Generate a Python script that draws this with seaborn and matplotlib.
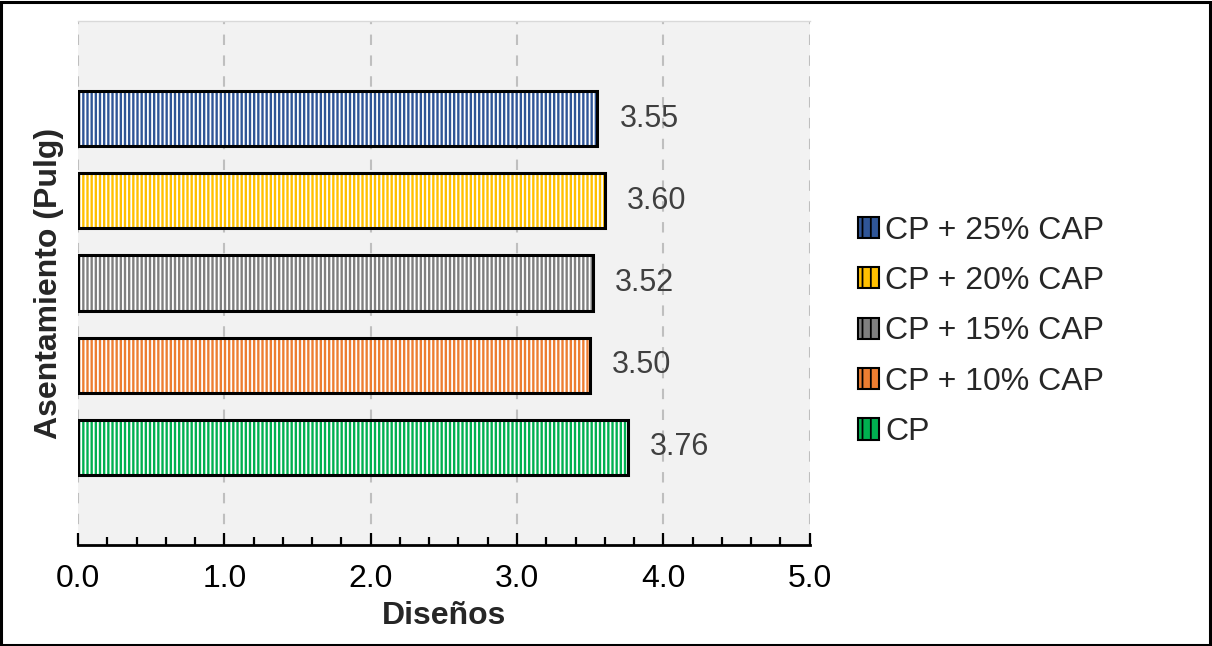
import matplotlib
matplotlib.use("Agg")
import matplotlib.pyplot as plt
from matplotlib.patches import Rectangle, Patch
from matplotlib.ticker import MultipleLocator
import seaborn as sns
import pandas as pd

# Slump results per mix design
disenos = ["CP + 25% CAP", "CP + 20% CAP", "CP + 15% CAP", "CP + 10% CAP", "CP"]
asentamiento = [3.55, 3.60, 3.52, 3.50, 3.76]
colores = ["#2F5597", "#FFC000", "#7F7F7F", "#ED7D31", "#00B050"]

sns.set_theme(style="white")
plt.rcParams["font.family"] = ["Liberation Sans", "DejaVu Sans"]
plt.rcParams["hatch.linewidth"] = 1.3

df = pd.DataFrame({"diseno": disenos, "valor": asentamiento})

fig = plt.figure(figsize=(12.12, 6.46), dpi=100)
fig.patch.set_facecolor("white")
fig.patches.append(Rectangle((0.001, 0.002), 0.997, 0.995, transform=fig.transFigure,
                             fill=False, edgecolor="black", linewidth=2.2))
ax = fig.add_axes([0.0644, 0.1563, 0.6036, 0.8112])
ax.set_facecolor("#F2F2F2")

sns.barplot(data=df, y="diseno", x="valor", hue="diseno", palette=colores,
            order=disenos, orient="h", width=0.67, legend=False,
            edgecolor="none", linewidth=0, saturation=1, ax=ax, zorder=2)

# white vertical stripes and black outline over each bar
for bar in list(ax.patches):
    x0, y0 = bar.get_x(), bar.get_y()
    w, h = bar.get_width(), bar.get_height()
    ax.add_patch(Rectangle((x0, y0), w, h, fill=False, hatch="||||",
                           edgecolor="white", linewidth=0, zorder=3))
    ax.add_patch(Rectangle((x0, y0), w, h, fill=False,
                           edgecolor="black", linewidth=2.2, zorder=4))

for i, v in enumerate(asentamiento):
    ax.text(v + 0.15, i, f"{v:.2f}", va="center", ha="left",
            fontsize=22, color="#404040", zorder=5)

ax.set_xlim(0, 5)
ax.set_ylim(len(disenos) - 1 + 1.19, -1.19)
ax.xaxis.set_minor_locator(MultipleLocator(0.2))
ax.set_xticks([0, 1, 2, 3, 4, 5])
ax.set_xticklabels([f"{t:.1f}" for t in range(6)], fontsize=23, color="black")
ax.tick_params(axis="x", which="major", direction="in", length=9, width=1.6,
               color="black", pad=14, bottom=True)
ax.tick_params(axis="x", which="minor", direction="in", length=6, width=1.6,
               color="black", bottom=True)
ax.set_yticks([])

ax.grid(axis="x", which="major", linestyle=(0, (5, 5)), color="#BFBFBF",
        linewidth=1.5, zorder=0)
ax.set_axisbelow(True)

for side in ["left", "right"]:
    ax.spines[side].set_visible(False)
ax.spines["top"].set_color("#D9D9D9")
ax.spines["top"].set_linewidth(1)
ax.spines["bottom"].set_color("black")
ax.spines["bottom"].set_linewidth(2)

ax.set_xlabel("Diseños", fontsize=23, fontweight="bold", labelpad=5)
ax.set_ylabel("Asentamiento (Pulg)", fontsize=23, fontweight="bold", labelpad=10)

handles = [Patch(facecolor=c, edgecolor="black", hatch="||", linewidth=1.5)
           for c in colores]
leg = fig.legend(handles, disenos, loc="center left", bbox_to_anchor=(0.684, 0.487),
                 frameon=False, fontsize=23, handlelength=0.65, handleheight=0.65,
                 handletextpad=0.2, labelspacing=0.64)

fig.savefig("out.png", dpi=100, facecolor="white")
